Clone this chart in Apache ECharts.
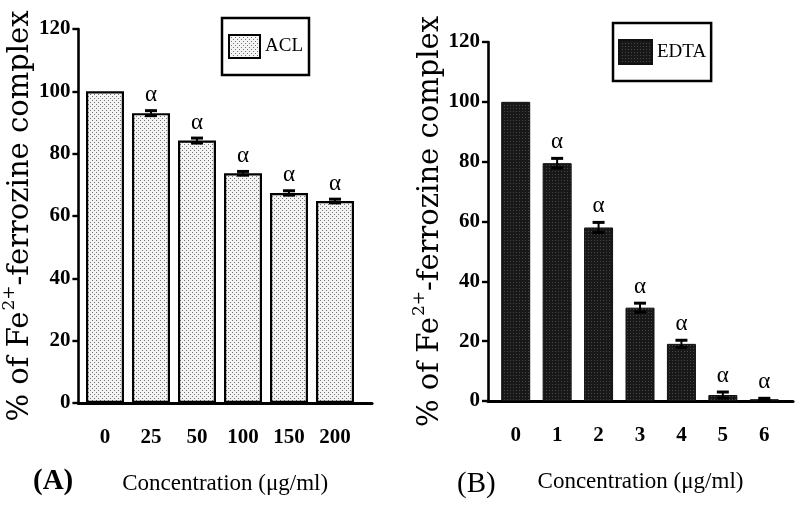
<!DOCTYPE html>
<html><head><meta charset="utf-8">
<script src="https://cdn.jsdelivr.net/npm/echarts@6/dist/echarts.min.js"></script>
<style>html,body{margin:0;padding:0;background:#fff}#c{width:797px;height:511px}</style>
</head><body><div id="c"></div>
<script>
// ---- data ----
const catsA = ['0', '25', '50', '100', '150', '200'];
const valsA = [100, 93.0, 84.2, 73.7, 67.4, 64.8];
const errA  = [0, 0.8, 0.8, 0.6, 0.7, 0.6];
const sigA  = ['', 'α', 'α', 'α', 'α', 'α'];

const catsB = ['0', '1', '2', '3', '4', '5', '6'];
const valsB = [100, 79.5, 58.0, 31.2, 19.1, 2.0, 0.6];
const errB  = [0, 1.6, 1.7, 1.5, 1.2, 1.0, 0.3];
const sigB  = ['', 'α', 'α', 'α', 'α', 'α', 'α'];

const yMin = 0, yMax = 120, yStep = 20;
const nameA = 'ACL', nameB = 'EDTA';
const xTitle = 'Concentration (μg/ml)';

// ---- patterns ----
function pattern(size, bg, fg, pts) {
  const c = document.createElement('canvas');
  c.width = size; c.height = size;
  const g = c.getContext('2d');
  g.fillStyle = bg; g.fillRect(0, 0, size, size);
  g.fillStyle = fg;
  pts.forEach(p => g.fillRect(p[0], p[1], 1, 1));
  return { image: c, repeat: 'repeat' };
}
const dotPat = pattern(4, '#f4f4f4', '#737373', [[0, 0], [2, 2]]);
const darkPat = pattern(3, '#181818', '#474747', [[0, 0]]);

const serif = 'Liberation Serif';
const wide = 'DejaVu Serif';

function errSeries(vals, errs, sig, xi, yi, capW, gap) {
  return {
    type: 'custom', xAxisIndex: xi, yAxisIndex: yi, z: 5, silent: true,
    data: vals.map((v, i) => [i, v, errs[i]]),
    renderItem(params, api) {
      const i = api.value(0), v = api.value(1), e = api.value(2);
      const hi = api.coord([i, v + e]), lo = api.coord([i, v - e]);
      const x = hi[0];
      const ch = [];
      if (e > 0) {
        ch.push({ type: 'line', shape: { x1: x, y1: hi[1], x2: x, y2: lo[1] }, style: { stroke: '#000', lineWidth: 2 } });
        ch.push({ type: 'line', shape: { x1: x - capW / 2, y1: hi[1], x2: x + capW / 2, y2: hi[1] }, style: { stroke: '#000', lineWidth: 3 } });
        ch.push({ type: 'line', shape: { x1: x - capW / 2, y1: lo[1], x2: x + capW / 2, y2: lo[1] }, style: { stroke: '#000', lineWidth: 3 } });
      }
      const s = sig[params.dataIndex];
      if (s) {
        ch.push({ type: 'text', style: { text: s, x: x, y: hi[1] - gap, align: 'center', textAlign: 'center',
          verticalAlign: 'bottom', textVerticalAlign: 'bottom', font: '23px "' + serif + '"', fill: '#000' } });
      }
      return { type: 'group', children: ch };
    }
  };
}

const axisLineStyle = { color: '#000', width: 2.6 };
const yTitle = {
  name: '{a|% of Fe}{s|2+}{a|-ferrozine complex}',
  nameLocation: 'middle', nameGap: 35,
  nameTextStyle: {
    rich: {
      a: { fontFamily: wide, fontSize: 29, color: '#000', lineHeight: 34, verticalAlign: 'bottom' },
      s: { fontFamily: wide, fontSize: 17, color: '#000', lineHeight: 34, verticalAlign: 'top', padding: [0, 0, 0, 1] }
    }
  }
};

function visY(gridIndex) {
  return Object.assign({
    type: 'value', gridIndex, min: yMin, max: yMax, interval: yStep,
    axisLine: { show: true, lineStyle: axisLineStyle },
    axisTick: { show: true, length: 6, lineStyle: { color: '#000', width: 2.4 } },
    axisLabel: { color: '#000', fontFamily: serif, fontWeight: 'bold', fontSize: 21, margin: 8 },
    splitLine: { show: false }
  }, yTitle);
}
function hidY(gridIndex) {
  return { type: 'value', gridIndex, min: yMin, max: yMax, interval: yStep, show: false, splitLine: { show: false } };
}
function lineX(gridIndex) {
  return {
    type: 'value', gridIndex, min: 0, max: 1,
    axisLine: { show: true, onZero: false, lineStyle: { color: '#000', width: 3.2 } },
    axisTick: { show: false }, axisLabel: { show: false }, splitLine: { show: false },
    name: xTitle, nameLocation: 'middle', nameGap: 69,
    nameTextStyle: { fontFamily: serif, fontSize: 23, color: '#000' }
  };
}
function catX(gridIndex, cats) {
  return {
    type: 'category', gridIndex, data: cats,
    axisLine: { show: false }, axisTick: { show: false },
    axisLabel: { color: '#000', fontFamily: serif, fontWeight: 'bold', fontSize: 21, margin: 24 }
  };
}

const option = {
  backgroundColor: '#fff',
  animation: false,
  title: [
    { text: '(A)', left: 28, top: 462, textStyle: { fontFamily: serif, fontWeight: 'bold', fontSize: 29, color: '#000' } },
    { text: '(B)', left: 452, top: 465, textStyle: { fontFamily: serif, fontWeight: 'normal', fontSize: 29, color: '#000' } }
  ],
  legend: [
    { data: [nameA], left: 222, top: 18, orient: 'horizontal', itemWidth: 31, itemHeight: 23, icon: 'rect',
      padding: [16, 6, 16, 6], borderColor: '#000', borderWidth: 2.5, borderRadius: 0,
      textStyle: { fontFamily: serif, fontSize: 19, color: '#000' } },
    { data: [nameB], left: 613, top: 23, orient: 'horizontal', itemWidth: 33, itemHeight: 24, icon: 'rect',
      padding: [16, 5, 16, 5], borderColor: '#000', borderWidth: 2.5, borderRadius: 0,
      textStyle: { fontFamily: serif, fontSize: 19, color: '#000' } }
  ],
  grid: [
    { left: 68, right: 797 - 372, top: 29, bottom: 511 - 403 },
    { left: 82, right: 797 - 358, top: 29, bottom: 511 - 403 },
    { left: 488, right: 797 - 793, top: 42, bottom: 511 - 401 },
    { left: 495, right: 797 - 785, top: 42, bottom: 511 - 401 }
  ],
  xAxis: [lineX(0), catX(1, catsA), lineX(2), catX(3, catsB)],
  yAxis: [visY(0), hidY(1), visY(2), hidY(3)],
  series: [
    { name: nameA, type: 'bar', xAxisIndex: 1, yAxisIndex: 1, data: valsA, barWidth: 38,
      itemStyle: { color: dotPat, borderColor: '#000', borderWidth: 2.2 } },
    errSeries(valsA, errA, sigA, 1, 1, 12, 4),
    { name: nameB, type: 'bar', xAxisIndex: 3, yAxisIndex: 3, data: valsB, barWidth: 29,
      itemStyle: { color: darkPat, borderColor: '#111', borderWidth: 1 } },
    errSeries(valsB, errB, sigB, 3, 3, 12, 5)
  ]
};
const chart = echarts.init(document.getElementById('c'), null, { renderer: 'canvas' });
chart.setOption(option);
</script>
</body></html>
